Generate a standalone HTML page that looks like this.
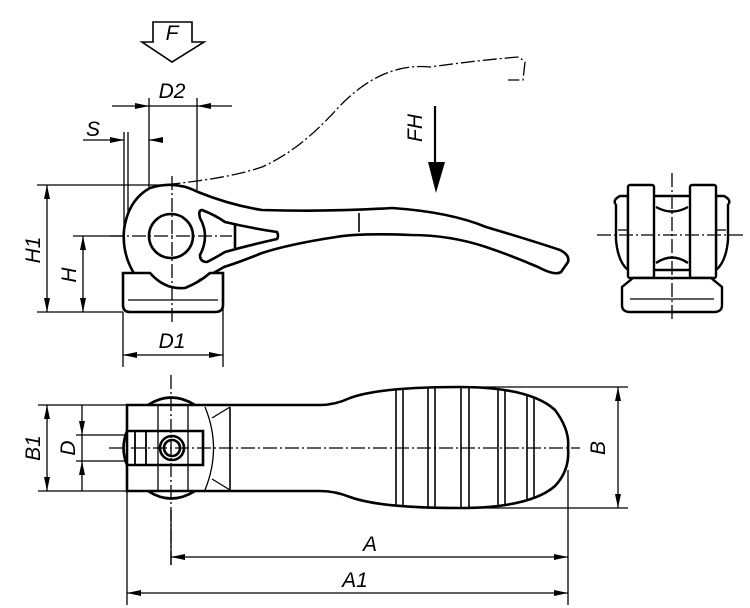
<!DOCTYPE html>
<html><head><style>
body{margin:0;background:#fff;}
svg{display:block;}
text{font-family:"Liberation Sans",sans-serif;font-style:italic;font-size:21px;fill:#000;}
</style></head><body>
<svg width="750" height="608" viewBox="0 0 750 608" xmlns="http://www.w3.org/2000/svg">
<defs>
<marker id="ar" viewBox="0 0 14 6" refX="14" refY="3" markerWidth="14" markerHeight="6" markerUnits="userSpaceOnUse" orient="auto-start-reverse">
<path d="M0,0 L14,3 L0,6 z" fill="#000"/></marker>
</defs>
<g fill="none" stroke="#000" stroke-width="1.3">
<path d="M153,22 H192 V42 H204 L172,62 L142,42 H153 Z" stroke-width="1.6"/>
<line x1="149" y1="98" x2="149" y2="236"/>
<line x1="197" y1="98" x2="197" y2="190"/>
<line x1="112" y1="106" x2="149" y2="106" marker-end="url(#ar)"/>
<line x1="232" y1="106" x2="197" y2="106" marker-end="url(#ar)"/>
<line x1="149" y1="106" x2="197" y2="106"/>
<line x1="124" y1="132" x2="124" y2="236"/>
<line x1="128" y1="132" x2="128" y2="236"/>
<line x1="83" y1="140" x2="124" y2="140" marker-end="url(#ar)"/>
<line x1="159" y1="140" x2="149" y2="140" marker-end="url(#ar)"/>
<line x1="37" y1="185" x2="175" y2="185"/>
<line x1="37" y1="312" x2="123" y2="312"/>
<line x1="47" y1="185" x2="47" y2="312" marker-start="url(#ar)" marker-end="url(#ar)"/>
<line x1="73" y1="236" x2="125" y2="236"/>
<line x1="83" y1="236" x2="83" y2="312" marker-start="url(#ar)" marker-end="url(#ar)"/>
<line x1="123" y1="312" x2="123" y2="367"/>
<line x1="223" y1="300" x2="223" y2="367"/>
<line x1="123" y1="355" x2="223" y2="355" marker-start="url(#ar)" marker-end="url(#ar)"/>
<line x1="435" y1="106" x2="435" y2="165" stroke-width="2.2"/>
<path d="M428,162 L445,162 L436,193 Z" fill="#000" stroke="none"/>
<path d="M130,232 Q128,190 172,184 Q230,178 262,167 Q300,150 336,110 Q380,62 430,67 Q480,60 519,57 L525,62 L523,80 L508,80" stroke-dasharray="14,3,2,3"/>
<g stroke-width="2.6">
<path d="M198,192 Q230,205 262,210 Q330,212 392,208 Q450,212 486,227 Q530,240 560,250 Q570,255 568,262 L561,272 Q555,276 538,267 Q510,255 486,247 Q450,235 411,235 Q360,233 336,237 Q290,244 262,253 Q240,262 224,267 Q205,278 200,280 Q185,292 172,290 Q150,290 135,275 Q122,255 124,230 Q128,200 150,188 Q175,180 198,192 Z" fill="#fff"/>
<circle cx="171" cy="236" r="22" fill="#fff"/>
<path d="M202,210 Q215,215 225,222 Q250,228 277,232 Q279,236 277,239 Q250,245 225,252 Q215,258 207,262 Q200,262 200,255 Q210,236 200,218 Q198,210 202,210 Z" fill="#fff"/>
<line x1="235" y1="225" x2="235" y2="248"/>
<path d="M123,273 H150 Q165,290 185,288 Q200,282 210,273 H223 V305 Q223,312 215,312 H130 Q123,312 123,305 Z" fill="#fff"/>
</g>
<line x1="128" y1="300" x2="218" y2="300"/>
<line x1="359" y1="213" x2="359" y2="232" stroke-width="1.6"/>
<line x1="172" y1="176" x2="172" y2="322" stroke-dasharray="14,3,2,3"/>
<line x1="110" y1="236" x2="232" y2="236" stroke-dasharray="14,3,2,3"/>
<g stroke-width="2.4">
<path d="M616,205 Q612,200 620,196 H628 V270 Q618,262 616,240 Z" fill="#fff"/>
<path d="M728,205 Q732,200 724,196 H716 V270 Q726,262 728,240 Z" fill="#fff"/>
<rect x="628" y="185" width="26" height="93" rx="2" fill="#fff"/>
<rect x="690" y="185" width="26" height="93" rx="2" fill="#fff"/>
<line x1="654" y1="196" x2="690" y2="196"/>
<line x1="654" y1="270" x2="690" y2="270"/>
<path d="M656,207 Q672,216 688,207"/>
<path d="M656,263 Q672,252 688,263"/>
<path d="M633,278 L622,287 V305 Q622,312 630,312 H714 Q722,312 722,305 V287 L711,278 Z" fill="#fff"/>
</g>
<line x1="630" y1="299" x2="714" y2="299"/>
<line x1="618" y1="230" x2="628" y2="230"/><line x1="716" y1="230" x2="726" y2="230"/>
<line x1="672" y1="173" x2="672" y2="320" stroke-dasharray="14,3,2,3"/>
<line x1="597" y1="235" x2="745" y2="235" stroke-dasharray="14,3,2,3"/>
<g stroke-width="2.6">
<path d="M148,405 Q171,390 195,405 M148,491 Q171,506 195,491"/>
<path d="M127,405 H320 Q335,405 350,398 Q380,387 459,387 Q530,387 555,410 Q570,430 568,448 Q570,470 555,486 Q530,508 459,508 Q380,508 350,497 Q335,491 320,491 H127 Z" fill="#fff"/>
<path d="M127,431 H203 V465 H127 Q120,448 127,431 Z"/>
<circle cx="172" cy="448" r="12"/>
<circle cx="172" cy="448" r="8"/>
</g>
<line x1="135" y1="431" x2="135" y2="465" stroke-width="1.8"/>
<line x1="146" y1="431" x2="146" y2="465" stroke-width="1.8"/>
<line x1="158" y1="405" x2="158" y2="491"/>
<line x1="188" y1="405" x2="188" y2="491"/>
<path d="M205,407 Q222,448 205,490"/>
<line x1="230" y1="407" x2="230" y2="490" stroke-width="1.6"/>
<line x1="212" y1="418" x2="230" y2="407"/><line x1="212" y1="479" x2="230" y2="490"/>
<g stroke-width="1.6">
<line x1="396" y1="389" x2="396" y2="506"/><line x1="403" y1="389" x2="403" y2="506"/>
<line x1="428" y1="387" x2="428" y2="508"/><line x1="435" y1="387" x2="435" y2="508"/>
<line x1="461" y1="387" x2="461" y2="508"/><line x1="469" y1="387" x2="469" y2="508"/>
<line x1="498" y1="389" x2="498" y2="506"/><line x1="505" y1="390" x2="505" y2="505"/>
<line x1="527" y1="395" x2="527" y2="500"/><line x1="534" y1="397" x2="534" y2="498"/>
</g>
<line x1="109" y1="448" x2="580" y2="448" stroke-dasharray="14,3,2,3"/>
<line x1="171" y1="375" x2="171" y2="565" stroke-dasharray="14,3,2,3"/>
<line x1="171" y1="510" x2="171" y2="565"/>
<line x1="127" y1="492" x2="127" y2="605"/>
<line x1="568" y1="470" x2="568" y2="605"/>
<line x1="171" y1="557" x2="568" y2="557" marker-start="url(#ar)" marker-end="url(#ar)"/>
<line x1="127" y1="593" x2="568" y2="593" marker-start="url(#ar)" marker-end="url(#ar)"/>
<line x1="459" y1="387" x2="628" y2="387"/>
<line x1="459" y1="508" x2="628" y2="508"/>
<line x1="618" y1="387" x2="618" y2="508" marker-start="url(#ar)" marker-end="url(#ar)"/>
<line x1="38" y1="405" x2="127" y2="405"/>
<line x1="38" y1="491" x2="127" y2="491"/>
<line x1="76" y1="435" x2="127" y2="435"/>
<line x1="76" y1="461" x2="127" y2="461"/>
<line x1="47" y1="405" x2="47" y2="491" marker-start="url(#ar)" marker-end="url(#ar)"/>
<line x1="82" y1="405" x2="82" y2="435" marker-end="url(#ar)"/>
<line x1="82" y1="491" x2="82" y2="461" marker-end="url(#ar)"/>
<line x1="82" y1="435" x2="82" y2="461"/>
</g>
<text x="172" y="40" text-anchor="middle" font-size="22">F</text>
<text x="172" y="98" text-anchor="middle">D2</text>
<text x="93" y="136" text-anchor="middle">S</text>
<text x="172" y="348" text-anchor="middle">D1</text>
<text transform="translate(40,250) rotate(-90)" text-anchor="middle">H1</text>
<text transform="translate(76,275) rotate(-90)" text-anchor="middle">H</text>
<text transform="translate(422,128) rotate(-90)" text-anchor="middle">FH</text>
<text x="370" y="551" text-anchor="middle">A</text>
<text x="355" y="587" text-anchor="middle">A1</text>
<text transform="translate(605,448) rotate(-90)" text-anchor="middle">B</text>
<text transform="translate(40,448) rotate(-90)" text-anchor="middle">B1</text>
<text transform="translate(75,448) rotate(-90)" text-anchor="middle">D</text>
</svg>
</body></html>
